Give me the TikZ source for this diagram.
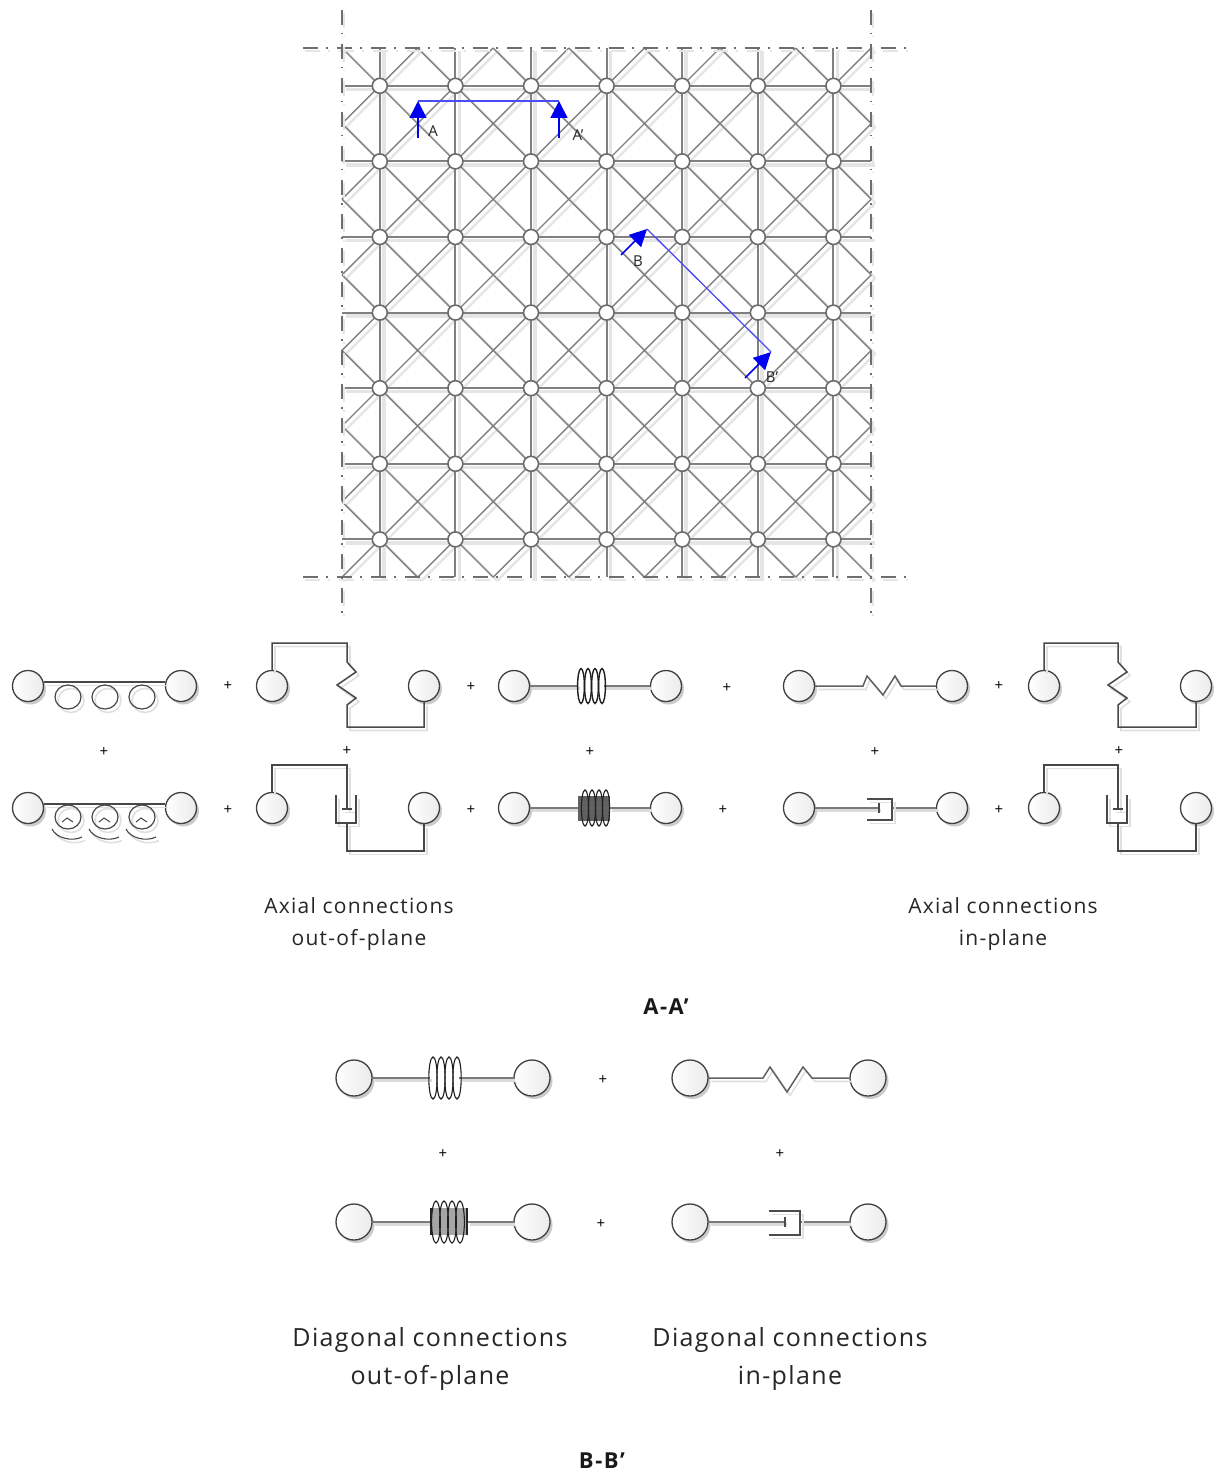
\documentclass[tikz,border=0pt]{standalone}
\usepackage{fontspec}
\setmainfont{Open Sans}
\usetikzlibrary{arrows.meta,shadows}
\definecolor{ink}{HTML}{484848}
\definecolor{grid}{HTML}{808080}
\definecolor{frameline}{HTML}{6E6E6E}
\definecolor{bluemark}{HTML}{0000F0}
\tikzset{
  sh/.style={preaction={draw=black!12,line width=1.6pt,transform canvas={xshift=3pt,yshift=-3.5pt}}},
  conn/.style={draw=ink,line width=1.5pt,sh},
  thickconn/.style={draw=black!52,line width=2.6pt,preaction={draw=black!14,line width=2.6pt,transform canvas={xshift=2pt,yshift=-2.5pt}}},
  thin coil/.style={draw=black!88,line width=1.1pt},
  gridortho/.style={draw=grid,line width=1.9pt},
  griddiag/.style={draw=grid,line width=1.4pt},
  gridshadow/.style={draw=black!10,line width=3.5pt},
  framed/.style={draw=frameline,line width=1.8pt,dash pattern=on 15pt off 8pt on 1.5pt off 9.5pt,preaction={draw=black!10,line width=1.6pt,dash pattern=on 15pt off 8pt on 1.5pt off 9.5pt,transform canvas={xshift=2pt,yshift=-3pt}}},
  joint/.style={circle,draw=black!58,line width=1.6pt,fill=white,minimum size=15pt,inner sep=0pt},
  ball/.style={circle,draw=black!75,line width=1.3pt,left color=white,right color=black!8,minimum size=31pt,inner sep=0pt,drop shadow={shadow xshift=2.5pt,shadow yshift=-3pt,fill=black!40,opacity=.5}},
  bigball/.style={ball,minimum size=36pt},
  plus/.style={inner sep=0pt,text=black,font=\fontsize{15}{15}\selectfont},
  caption/.style={align=center,inner sep=0pt,text=black!85,font=\fontsize{21}{32}\selectfont\addfontfeature{LetterSpace=6}},
  bigcaption/.style={align=center,inner sep=0pt,text=black!85,font=\fontsize{25}{38}\selectfont\addfontfeature{LetterSpace=5.5}},
  section/.style={inner sep=0pt,font=\fontsize{22}{24}\selectfont\bfseries\addfontfeature{LetterSpace=7},text=black!90},
  marklabel/.style={inner sep=0pt,font=\fontsize{15}{15}\selectfont,text=black!85},
  bluearrow/.style={draw=bluemark,line width=1.6pt,-{Triangle[length=17pt,width=17pt]}},
  blueline/.style={draw=bluemark!70!white,line width=1.3pt},
}
\begin{document}
\begin{tikzpicture}[x=1pt,y=-1pt]
\useasboundingbox[fill=white] (0,0) rectangle (1216,1474);
% ---- grid
\def\gx{342}\def\gy{48}\def\gs{75.6}
\foreach \i in {0,...,6}{
  \coordinate (L\i) at (\gx,{\gy+\gs*(\i+.5)});
  \coordinate (R\i) at ({\gx+7*\gs},{\gy+\gs*(\i+.5)});
  \coordinate (T\i) at ({\gx+\gs*(\i+.5)},\gy);
  \coordinate (B\i) at ({\gx+\gs*(\i+.5)},{\gy+7*\gs});
}
\def\orthopath{
  (L0)--(R0) (L1)--(R1) (L2)--(R2) (L3)--(R3) (L4)--(R4) (L5)--(R5) (L6)--(R6)
  (T0)--(B0) (T1)--(B1) (T2)--(B2) (T3)--(B3) (T4)--(B4) (T5)--(B5) (T6)--(B6)}
\def\diagpath{
  \foreach \k/\s in {0/1,1/2,2/3,3/4,4/5,5/6,6/7}{
    ({\gx+\gs*\k},\gy) -- ({\gx+7*\gs},{\gy+\gs*(7-\k)})
    (\gx,{\gy+\gs*\k}) -- ({\gx+\gs*(7-\k)},{\gy+7*\gs})
    ({\gx+\gs*\s},\gy) -- (\gx,{\gy+\gs*\s})
    ({\gx+7*\gs},{\gy+\gs*\k}) -- ({\gx+\gs*\k},{\gy+7*\gs})
  }}
\begin{scope}[transform canvas={xshift=4pt,yshift=-3.5pt}]
  \draw[gridshadow] \orthopath;
  \draw[gridshadow,line width=2.4pt] \diagpath;
\end{scope}
\draw[griddiag] \diagpath;
\draw[gridortho] \orthopath;
\foreach \i in {0,...,6}\foreach \j in {0,...,6}
  \node[joint] (n\i\j) at ({\gx+\gs*(\i+.5)},{\gy+\gs*(\j+.5)}) {};
% ---- frame
\coordinate (fh1a) at (303,48);  \coordinate (fh1b) at (908,48);
\coordinate (fh2a) at (303,577); \coordinate (fh2b) at (908,577);
\coordinate (fv1a) at (342,10);  \coordinate (fv1b) at (342,615);
\coordinate (fv2a) at (871,10);  \coordinate (fv2b) at (871,615);
\draw[framed] (fh1a)--(fh1b);
\draw[framed] (fh2a)--(fh2b);
\draw[framed] (fv1a)--(fv1b);
\draw[framed] (fv2a)--(fv2b);
% ---- section marks
\coordinate (a0) at (418,138); \coordinate (a1) at (418,101);
\coordinate (a2) at (559,138); \coordinate (a3) at (559,101);
\draw[blueline] (a1)--(a3);
\draw[bluearrow] (a0)--(a1);
\draw[bluearrow] (a2)--(a3);
\node[marklabel] (la) at (433,131) {A};
\node[marklabel] (lap) at (578,135) {A’};
\coordinate (b0) at (621,255); \coordinate (b1) at (647,229);
\coordinate (b2) at (745,378); \coordinate (b3) at (771,352);
\draw[blueline] (b1)--(b3);
\draw[bluearrow] (b0)--(b1);
\draw[bluearrow] (b2)--(b3);
\node[marklabel] (lb) at (638,261) {B};
\node[marklabel] (lbp) at (772,377) {B’};
% ---- axial out-of-plane: rotational spring / damper
\node[ball] (c1) at (28,686) {};  \node[ball] (c2) at (181,686) {};
\draw[conn] (c1.east|-0,682) -- (c2.west|-0,682);
\foreach \x in {68,105,142}
  \draw[draw=ink,line width=1.2pt,sh] (\x,697) ellipse [x radius=13,y radius=12];
\node[ball] (c3) at (28,808) {};  \node[ball] (c4) at (181,808) {};
\draw[conn] (c3.east|-0,804) -- (c4.west|-0,804);
\foreach \x in {68,105,142}{
  \draw[draw=ink,line width=1.2pt,sh] (\x,817) ellipse [x radius=13,y radius=12];
  \draw[draw=ink,line width=1pt] (\x-6,822) -- (\x-1,818) -- (\x+5,822);
  \draw[draw=ink,line width=1.1pt,sh] (\x-16,829) .. controls (\x-12,838) and (\x+4,842) .. (\x+14,837);
}
% ---- axial out-of-plane: offset spring / damper
\node[ball] (c5) at (272,686) {}; \node[ball] (c6) at (424,686) {};
\draw[conn] (c5.north) |- (347,643) -- (347,662) -- (356,672) -- (337,685) -- (356,698) -- (347,705) -- (347,727) -| (c6.south);
\node[ball] (c7) at (272,808) {}; \node[ball] (c8) at (424,808) {};
\draw[conn] (c7.north) |- (347,765) -- (347,809);
\draw[conn] (342,809) -- (352,809);
\draw[conn] (336,795) -- (336,823) -- (356,823) -- (356,795);
\draw[conn] (347,823) -- (347,851) -| (c8.south);
% ---- axial out-of-plane: translational spring / damper
\node[ball] (c9) at (514,686) {}; \node[ball] (c10) at (666,686) {};
\draw[thickconn] (c9.east) -- (578,686);
\draw[thickconn] (604,686) -- (c10.west);
\foreach \x in {581,588,595,602}
  \draw[thin coil,line width=1.4pt] (\x,686) ellipse [x radius=3.4,y radius=17.5];
\node[ball] (c11) at (514,808) {}; \node[ball] (c12) at (666,808) {};
\draw[thickconn] (c11.east) -- (578,808);
\draw[thickconn] (610,808) -- (c12.west);
\fill[black!62] (578,796) rectangle (610,821);
\foreach \x in {585,592,599,606}
  \draw[thin coil] (\x,808) ellipse [x radius=3.6,y radius=18];
% ---- axial in-plane
\node[ball] (c13) at (799,686) {}; \node[ball] (c14) at (952,686) {};
\draw[conn,draw=black!62] (c13.east) -- (863,686) -- (867,676) -- (883,695) -- (895,676) -- (901,686) -- (c14.west);
\node[ball] (c15) at (799,808) {}; \node[ball] (c16) at (952,808) {};
\draw[thickconn] (c15.east) -- (879,808);
\draw[thickconn] (892,808) -- (c16.west);
\draw[draw=black!70,line width=1.1pt] (879,803) -- (879,813);
\draw[draw=black!70,line width=1.3pt,sh] (867,799) -- (892,799) -- (892,820) -- (867,820);
\node[ball] (c17) at (1044,686) {}; \node[ball] (c18) at (1196,686) {};
\draw[conn] (c17.north) |- (1118,643) -- (1118,662) -- (1127,672) -- (1108,685) -- (1127,698) -- (1118,705) -- (1118,727) -| (c18.south);
\node[ball] (c19) at (1044,808) {}; \node[ball] (c20) at (1196,808) {};
\draw[conn] (c19.north) |- (1118,765) -- (1118,809);
\draw[conn] (1113,809) -- (1123,809);
\draw[conn] (1107,795) -- (1107,823) -- (1127,823) -- (1127,795);
\draw[conn] (1118,823) -- (1118,851) -| (c20.south);
% ---- diagonal
\node[bigball] (d1) at (354,1078) {}; \node[bigball] (d2) at (532,1078) {};
\draw[thickconn] (d1.east) -- (430,1078);
\draw[thickconn] (459,1078) -- (d2.west);
\foreach \x in {433,441,449,457}
  \draw[thin coil] (\x,1078) ellipse [x radius=4.2,y radius=21];
\node[bigball] (d3) at (690,1078) {}; \node[bigball] (d4) at (868,1078) {};
\draw[conn,draw=black!62] (d3.east) -- (763,1078) -- (770,1067) -- (787,1092) -- (803,1067) -- (812,1078) -- (d4.west);
\node[bigball] (d5) at (354,1222) {}; \node[bigball] (d6) at (532,1222) {};
\draw[thickconn] (d5.east) -- (430,1222);
\draw[thickconn] (468,1222) -- (d6.west);
\fill[black!35] (431,1208) rectangle (467,1235);
\draw[draw=black!85,line width=1.2pt] (431,1208) -- (431,1235) (467,1208) -- (467,1235);
\foreach \x in {436,444,452,460}
  \draw[thin coil] (\x,1222) ellipse [x radius=4.4,y radius=21];
\node[bigball] (d7) at (690,1222) {}; \node[bigball] (d8) at (868,1222) {};
\draw[thickconn] (d7.east) -- (785,1222);
\draw[thickconn] (800,1222) -- (d8.west);
\draw[draw=black!70,line width=1.1pt] (785,1217) -- (785,1227);
\draw[draw=black!70,line width=1.3pt,sh] (769,1211) -- (800,1211) -- (800,1235) -- (769,1235);
% ---- plus signs
\foreach \n/\x/\y in {1/228/686,2/471/687,3/727/688,4/999/686,5/104/752,6/347/751,7/590/752,8/875/752,9/1119/751,10/228/810,11/471/810,12/723/810,13/999/810,14/603/1080,15/443/1154,16/780/1154,17/601/1224}
  \node[plus] (p\n) at (\x,\y) {+};
% ---- texts
\node[caption] (t1) at (359,924.5) {Axial connections\\out-of-plane};
\node[caption] (t2) at (1003,924.5) {Axial connections\\in-plane};
\node[section] (t3) at (666,1007) {A-A’};
\node[bigcaption] (t4) at (430,1358.5) {Diagonal connections\\out-of-plane};
\node[bigcaption] (t5) at (790,1358.5) {Diagonal connections\\in-plane};
\node[section] (t6) at (602,1461) {B-B’};
\end{tikzpicture}
\end{document}
